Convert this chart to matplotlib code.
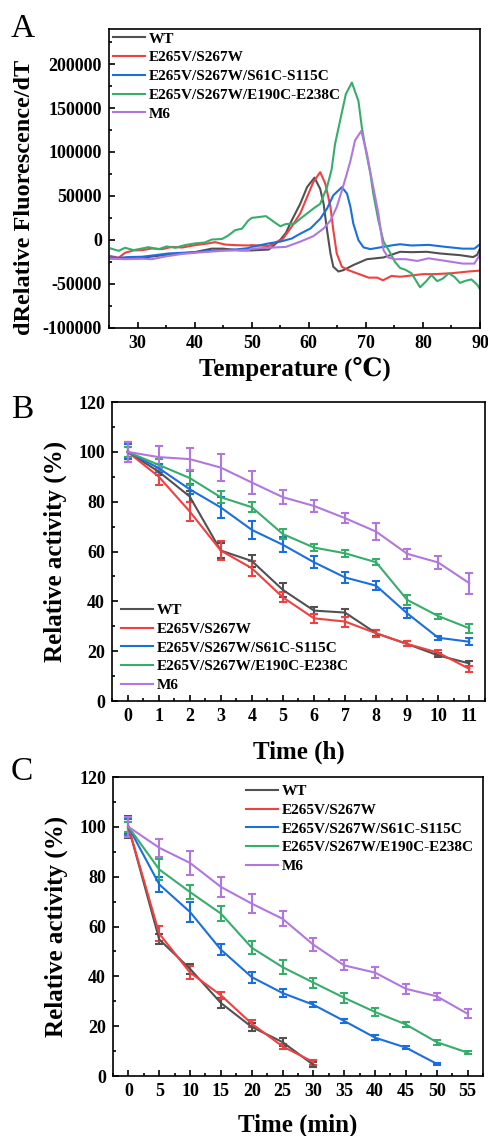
import matplotlib
matplotlib.use("Agg")
import matplotlib.pyplot as plt
from matplotlib.ticker import MultipleLocator, FixedLocator

plt.rcParams["font.family"] = ["Liberation Serif", "DejaVu Serif"]
plt.rcParams["font.weight"] = "bold"
plt.rcParams["axes.unicode_minus"] = False

LABELS = ["WT", "E265V/S267W", "E265V/S267W/S61C-S115C", "E265V/S267W/E190C-E238C", "M6"]
COLORS = ["#515151", "#F14040", "#1A6FDF", "#37AD6B", "#B177DE"]

# ---- panel A : melt curves (temperature, dF/dT in thousands) ----
wt_t = [25.3, 30, 35, 40, 43, 45, 48, 50, 53, 55, 56, 57, 58.5, 59.7, 61.0, 62.0, 62.6, 63.2,
        63.8, 64.3, 65.2, 66.1, 67.8, 70.2, 73.1, 76, 78, 80.7, 83, 86.5, 88.8, 89.5, 90]
wt_v = [-21, -21, -17, -14, -10, -10, -12, -12, -11, 0, 8, 22, 41, 60, 70.8, 58, 41, 11,
        -15.5, -30.6, -36, -34.4, -28.7, -22, -20, -13.6, -14, -13.6, -15.5, -17.4, -19.6, -17, -10]

red_t = [25.3, 26.7, 27.8, 29.3, 30.8, 32.5, 34.3, 36, 37.8, 40.1, 42.4, 43.6, 45.3, 47.1, 49.4,
         50, 53, 54.5, 55.5, 57, 58.5, 59.7, 60.8, 62.0, 62.9, 63.8, 64.3, 64.9, 65.8, 66.9,
         68.4, 70.5, 72, 73, 74.5, 76, 78, 80, 82, 85, 88, 90]
red_v = [-18.5, -20.4, -14.7, -12, -11.7, -9.8, -10.6, -8, -8.7, -6, -4, -2.6, -5.3, -6, -6.4,
         -6, -7, -2, 1.5, 15, 30, 48.8, 65.8, 77, 64, 37.4, 11, -15.5, -30.6, -34.4,
         -38, -43, -43, -46, -41, -42, -40.5, -39, -39, -38, -36, -35]

blue_t = [25.3, 26.7, 28.3, 30.8, 33.1, 35.4, 37.8, 40.1, 42.4, 44.8, 47.1, 49.4, 50, 53, 55, 57,
          58.5, 60.3, 62.0, 63.2, 64.3, 65.8, 66.7, 67.3, 67.8, 68.7, 69.6, 70.8, 72.5, 74.8,
          76, 78, 81, 84, 87, 89, 90]
blue_v = [-20, -20.4, -19.6, -19.2, -17.4, -15.5, -14.7, -14, -12.8, -11.7, -11, -9.4, -8, -4, -2,
          1.5, 7, 13, 24, 35.6, 50.7, 60, 52.6, 37.4, 18.6, -0.3, -8.6, -10.5, -8.6, -6,
          -5, -6.4, -5.7, -8, -10, -10, -5]

green_t = [25.3, 26.7, 27.8, 29.3, 30.8, 31.9, 33.7, 35.1, 36.6, 38.3, 40.1, 41.8, 43, 44.8, 45.9,
           47.1, 48.3, 49.4, 50, 52.5, 54, 55, 56, 57.5, 58.5, 59.7, 60.8, 62.0, 63.2, 64.0,
           64.6, 65.5, 66.5, 67.55, 68.7, 69.3, 69.9, 70.8, 71.3, 72.2, 73.1, 74.0, 75.1, 76.0,
           76.9, 78, 79.5, 80.5, 81.5, 82.5, 83.5, 84.5, 85.5, 86.5, 87.5, 88.5, 89.5, 90]
green_v = [-9.8, -12.5, -9, -11.7, -9.8, -8.3, -10.6, -7.5, -9, -6, -4, -3, 0.4, 1, 5,
           11, 12.8, 22, 25, 27, 20, 15.5, 18, 18.5, 24, 30, 35.6, 41, 60, 80,
           109, 136, 166, 179, 158, 128, 105, 75, 52.6, 22, -2, -11.7, -25, -32,
           -34, -38, -54, -47.6, -40, -47, -44, -38, -42, -49, -46.5, -45, -51, -56]

m6_t = [25.3, 27.8, 30.8, 32.5, 34.8, 37.8, 40.1, 42.4, 44.8, 47.1, 49.4, 50, 53, 56, 58.5, 60.8,
        62.6, 63.8, 64.9, 65.8, 66.7, 67.3, 68.1, 69.2, 70.2, 70.8, 72.2, 73.1, 73.9, 75, 77,
        79, 81, 83, 85, 87, 89, 90]
m6_v = [-21.5, -22, -21.5, -22, -19, -16, -14.7, -13.6, -12.5, -12, -11.7, -10, -9, -8, -2, 4.2,
        13, 22, 37.4, 56, 76, 90, 113, 124, 98, 76.6, 30, -11.7, -20, -22, -22,
        -24, -21, -23, -25, -27, -27, -17]

melt_t = [wt_t, red_t, blue_t, green_t, m6_t]
melt_v = [wt_v, red_v, blue_v, green_v, m6_v]

# ---- panel B : residual activity over hours ----
hours = [0, 1, 2, 3, 4, 5, 6, 7, 8, 9, 10, 11]
b_wt = [100, 92.1, 82.1, 60.4, 56.2, 44.6, 36.3, 35.5, 27.2, 22.9, 18.3, 15.1]
b_wt_err = [4, 1.5, 2.3, 3, 2.5, 2.7, 1.3, 1.6, 1.2, 1, 0.8, 1]
b_red = [100, 90.1, 76.1, 60.4, 53.3, 41.6, 33.2, 31.9, 27.2, 22.9, 19.4, 12.9]
b_red_err = [4, 3.5, 3.8, 3.8, 3, 2, 1.7, 2, 1.5, 1, 1, 1.2]
b_blue = [100, 93.5, 85.0, 77.7, 68.7, 62.7, 55.7, 49.6, 46.3, 35.2, 25.4, 23.8]
b_blue_err = [3, 1.5, 2, 4.3, 3.5, 3, 2.5, 2.3, 1.8, 2, 0.8, 1.5]
b_green = [100, 94.8, 89.5, 81.8, 77.8, 67.0, 61.6, 59.3, 55.7, 40.6, 34.1, 29.2]
b_green_err = [2, 2.5, 3, 2.5, 2, 2, 1.5, 1.3, 1.2, 2, 1, 1.7]
b_m6 = [100, 97.9, 97.1, 93.7, 87.7, 81.8, 78.3, 73.4, 68.0, 59.1, 55.6, 47.3]
b_m6_err = [4, 4.3, 4.3, 5.5, 4.5, 2.7, 2.5, 2, 3.3, 2, 2.8, 4.2]

# ---- panel C : residual activity over minutes ----
min_short = [0, 5, 10, 15, 20, 25, 30]
min_mid = [0, 5, 10, 15, 20, 25, 30, 35, 40, 45, 50]
min_long = [0, 5, 10, 15, 20, 25, 30, 35, 40, 45, 50, 55]
c_wt = [100, 54.8, 43.0, 29.3, 19.7, 13.6, 4.5]
c_wt_err = [4.5, 2, 2, 2, 1.5, 1.5, 1]
c_red = [100, 57.1, 41.5, 32.4, 21.0, 11.9, 5.6]
c_red_err = [3.5, 3, 2.5, 1.5, 1.5, 1, 1]
c_blue = [100, 76.9, 65.8, 50.7, 39.7, 33.3, 28.6, 22.1, 15.4, 11.4, 4.9]
c_blue_err = [3, 2.9, 4, 2.3, 2.2, 1.5, 1.1, 0.8, 1, 0.6, 0.5]
c_green = [100, 82.9, 73.8, 65.2, 51.5, 43.7, 37.5, 31.4, 25.7, 20.7, 13.6, 9.4]
c_green_err = [2, 4.2, 2.8, 3, 2.7, 2.7, 2, 2, 1.6, 1, 1, 0.7]
c_m6 = [100, 91.6, 85.5, 75.9, 69.2, 63.1, 52.7, 44.4, 41.5, 35.0, 32.0, 25.0]
c_m6_err = [4, 3.5, 4.7, 3.9, 3.7, 3, 2.5, 2, 2.3, 2, 1.5, 1.7]

TICK_SIZE = 13
LABEL_SIZE = 18
LEGEND_SIZE = 11


def style_axes(ax):
    """
    Origin-like frame: inward ticks on the bottom and left only
    """
    for side in ax.spines.values():
        side.set_linewidth(1.2)
    ax.tick_params(which="both", direction="in", top=False, right=False, width=1.2,
                   labelsize=TICK_SIZE, pad=5)
    ax.tick_params(which="major", length=4.5)
    ax.tick_params(which="minor", length=2.5)
    for lab in ax.get_xticklabels() + ax.get_yticklabels():
        lab.set_fontweight("bold")


def add_legend(ax, handles, loc, anchor):
    ax.legend(handles, LABELS, loc=loc, bbox_to_anchor=anchor, frameon=False,
              prop={"weight": "bold", "size": LEGEND_SIZE}, handlelength=2.1,
              handletextpad=0.25, labelspacing=0.33, borderpad=0, borderaxespad=0)


fig = plt.figure(figsize=(4.88, 11.36), dpi=100)

# panel A
ax_a = fig.add_axes([0.2234, 0.7115, 0.7602, 0.263])
lines_a = []
for t, v, c in zip(melt_t, melt_v, COLORS):
    ln, = ax_a.plot(t, [k * 1000 for k in v], color=c, lw=1.5, solid_joinstyle="round")
    lines_a.append(ln)
ax_a.set_xlim(25, 90)
ax_a.set_ylim(-100000, 240000)
ax_a.xaxis.set_major_locator(MultipleLocator(10))
ax_a.xaxis.set_minor_locator(MultipleLocator(5))
ax_a.yaxis.set_major_locator(FixedLocator([-100000, -50000, 0, 50000, 100000, 150000, 200000]))
ax_a.yaxis.set_minor_locator(MultipleLocator(25000))
ax_a.set_xticks([30, 40, 50, 60, 70, 80, 90])
ax_a.set_yticklabels(["-100000", "-50000", "0", "50000", "100000", "150000", "200000"])
style_axes(ax_a)
ax_a.set_xlabel("Temperature (\u2103)", fontsize=LABEL_SIZE, fontweight="bold", labelpad=4)
ax_a.set_ylabel("dRelative Fluorescence/dT", fontsize=LABEL_SIZE - 0.5, fontweight="bold")
ax_a.yaxis.set_label_coords(-0.2, 0.436)
add_legend(ax_a, lines_a, "upper left", (0.01, 0.99))

# panel B
ax_b = fig.add_axes([0.2295, 0.3829, 0.764, 0.2632])
b_series = [(b_wt, b_wt_err), (b_red, b_red_err), (b_blue, b_blue_err),
            (b_green, b_green_err), (b_m6, b_m6_err)]
lines_b = []
for (y, e), c in zip(b_series, COLORS):
    cont = ax_b.errorbar(hours, y, yerr=e, color=c, lw=1.5, elinewidth=1.5, capsize=2.8,
                         capthick=1.5)
    lines_b.append(cont[0])
ax_b.set_xlim(-0.5, 11.5)
ax_b.set_ylim(0, 120)
ax_b.xaxis.set_major_locator(MultipleLocator(1))
ax_b.xaxis.set_minor_locator(MultipleLocator(0.5))
ax_b.yaxis.set_major_locator(MultipleLocator(20))
ax_b.yaxis.set_minor_locator(MultipleLocator(10))
style_axes(ax_b)
ax_b.set_xlabel("Time (h)", fontsize=LABEL_SIZE, fontweight="bold", labelpad=11)
ax_b.set_ylabel("Relative activity (%)", fontsize=LABEL_SIZE, fontweight="bold", labelpad=8)
add_legend(ax_b, lines_b, "lower left", (0.024, 0.03))

# panel C
ax_c = fig.add_axes([0.2316, 0.0528, 0.758, 0.2632])
c_series = [(min_short, c_wt, c_wt_err), (min_short, c_red, c_red_err),
            (min_mid, c_blue, c_blue_err), (min_long, c_green, c_green_err),
            (min_long, c_m6, c_m6_err)]
lines_c = []
for (x, y, e), c in zip(c_series, COLORS):
    cont = ax_c.errorbar(x, y, yerr=e, color=c, lw=1.5, elinewidth=1.5, capsize=2.8,
                         capthick=1.5)
    lines_c.append(cont[0])
ax_c.set_xlim(-2.5, 57.5)
ax_c.set_ylim(0, 120)
ax_c.xaxis.set_major_locator(MultipleLocator(5))
ax_c.xaxis.set_minor_locator(MultipleLocator(2.5))
ax_c.yaxis.set_major_locator(MultipleLocator(20))
ax_c.yaxis.set_minor_locator(MultipleLocator(10))
style_axes(ax_c)
ax_c.set_xlabel("Time (min)", fontsize=LABEL_SIZE, fontweight="bold", labelpad=10)
ax_c.set_ylabel("Relative activity (%)", fontsize=LABEL_SIZE, fontweight="bold", labelpad=8)
add_legend(ax_c, lines_c, "upper left", (0.36, 0.975))

for letter, ypos in zip(["A", "B", "C"], [0.9885, 0.6525, 0.3345]):
    fig.text(0.022, ypos, letter, fontsize=24, fontweight="normal", va="top", ha="left")

fig.savefig("out.png", dpi=100)
